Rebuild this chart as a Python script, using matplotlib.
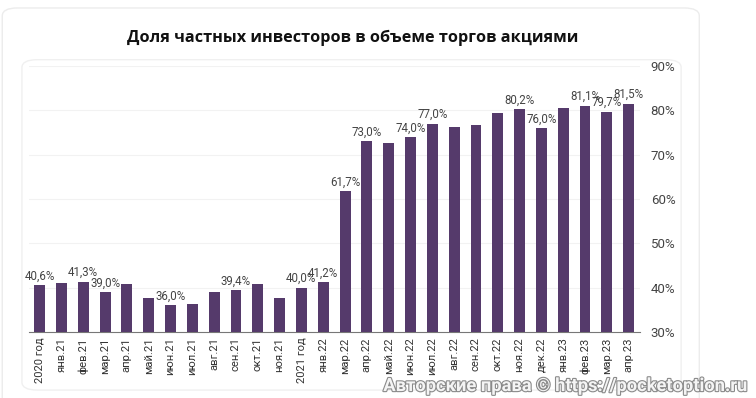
import matplotlib.pyplot as plt
import matplotlib.patheffects as pe
from matplotlib.patches import FancyBboxPatch

# categories along the x axis
months = ['2020 год', 'янв.21', 'фев.21', 'мар.21', 'апр.21', 'май.21', 'июн.21',
          'июл.21', 'авг.21', 'сен.21', 'окт.21', 'ноя.21', '2021 год', 'янв.22',
          'мар.22', 'апр.22', 'май.22', 'июн.22', 'июл.22', 'авг.22', 'сен.22',
          'окт.22', 'ноя.22', 'дек.22', 'янв.23', 'фев.23', 'мар.23', 'апр.23']
# share of private investors, %
share = [40.6, 41.0, 41.3, 39.0, 40.8, 37.7, 36.0, 36.4, 39.0, 39.4, 40.8, 37.6,
         40.0, 41.2, 61.7, 73.0, 72.7, 74.0, 77.0, 76.3, 76.7, 79.4, 80.2, 76.0,
         80.5, 81.1, 79.7, 81.5]
# which bars carry a value label
labelled = ['2020 год', 'фев.21', 'мар.21', 'июн.21', 'сен.21', '2021 год', 'янв.22',
            'мар.22', 'апр.22', 'июн.22', 'июл.22', 'ноя.22', 'дек.22', 'фев.23',
            'мар.23', 'апр.23']
yticks = [30, 40, 50, 60, 70, 80, 90]

fig = plt.figure(figsize=(7.56, 3.98), dpi=100)

# outer card and inner panel
fig.patches.append(FancyBboxPatch((0.003, -0.05), 0.922, 1.03, boxstyle='round,pad=0,rounding_size=0.02',
                                  transform=fig.transFigure, fc='white', ec='#ececec', lw=1, zorder=-2))
fig.patches.append(FancyBboxPatch((0.029, 0.02), 0.872, 0.83, boxstyle='round,pad=0,rounding_size=0.02',
                                  transform=fig.transFigure, fc='white', ec='#f0f0f0', lw=1, zorder=-1))

ax = fig.add_axes([0.038, 0.166, 0.808, 0.668])
ax.set_facecolor('none')
x = list(range(len(months)))
ax.bar(x, share, width=0.5, color='#553a6b', zorder=3)

for i, (m, v) in enumerate(zip(months, share)):
    if m in labelled:
        ax.text(i, v + 0.6, ('%.1f%%' % v).replace('.', ','), ha='center', va='bottom',
                fontsize=8.3, color='#444444', family='Roboto', zorder=4)

ax.set_xlim(-0.5, len(months) - 0.5)
ax.set_ylim(30, 90)
ax.set_yticks(yticks)
ax.set_yticklabels(['%d%%' % t for t in yticks], family='Roboto', fontsize=9.5, color='#444444')
ax.yaxis.tick_right()
ax.tick_params(axis='y', length=0, pad=8)
ax.set_xticks(x)
ax.set_xticklabels(months, rotation=90, family='Roboto', fontsize=8.1, color='#333333')
ax.tick_params(axis='x', length=0, pad=4)
for t in yticks[1:]:
    ax.axhline(t, color='#f2f2f2', lw=0.8, zorder=1)
for s in ['top', 'right', 'left']:
    ax.spines[s].set_visible(False)
ax.spines['bottom'].set_color('#777777')
ax.spines['bottom'].set_linewidth(0.8)

fig.text(0.466, 0.905, 'Доля частных инвесторов в объеме торгов акциями', ha='center', va='center',
         fontsize=11.7, fontweight='bold', family='Open Sans', color='#111111')

wm = fig.text(0.99, 0.03, 'Авторские права © https://pocketoption.ru', ha='right', va='center',
              fontsize=13.2, fontweight='bold', family='Roboto', color='#f4f4f4')
wm.set_path_effects([pe.withStroke(linewidth=1.6, foreground='#8a8a8a')])

fig.savefig('out.png', dpi=100)
